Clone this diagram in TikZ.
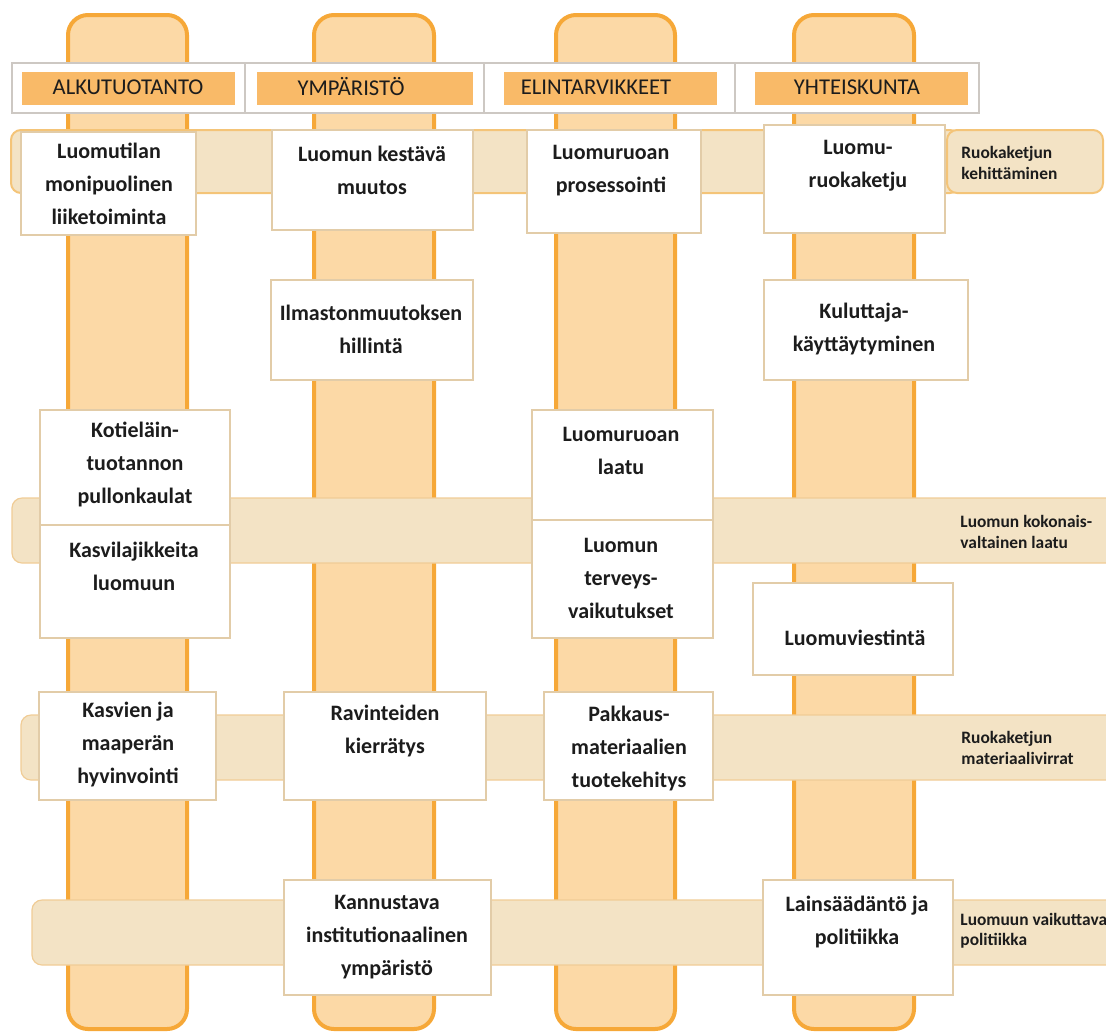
\documentclass[tikz,border=0pt]{standalone}
\usepackage{fontspec}
\setmainfont{Carlito}
\usetikzlibrary{fit}
\definecolor{colfill}{RGB}{252,217,166}
\definecolor{colline}{RGB}{246,168,56}
\definecolor{hdrorange}{RGB}{249,186,104}
\definecolor{bandfill}{RGB}{243,227,197}
\definecolor{bandline}{RGB}{240,204,150}
\definecolor{bandone}{RGB}{244,196,120}
\definecolor{boxline}{RGB}{226,204,168}
\definecolor{cellline}{RGB}{205,200,195}
\definecolor{txt}{RGB}{28,28,28}
\begin{document}
\begin{tikzpicture}[x=0.5pt,y=-0.5pt,
  colbar/.style={draw=colline,fill=colfill,line width=2pt,rounded corners=10pt},
  band/.style={draw=bandline,fill=bandfill,line width=0.6pt,rounded corners=5pt},
  lbox/.style={draw=bandone,fill=bandfill,line width=1pt,rounded corners=5pt,inner sep=0pt},
  hcell/.style={draw=cellline,fill=white,line width=0.6pt,inner sep=0pt},
  horange/.style={fill=hdrorange,inner sep=0pt},
  htext/.style={text=txt,font=\fontsize{11.3}{13}\selectfont,inner sep=0pt},
  wbox/.style={draw=boxline,fill=white,line width=0.6pt,inner sep=0pt},
  btext/.style={text=txt,align=center,inner sep=0pt,font=\bfseries\fontsize{11}{16.5}\selectfont},
  ltext/.style={text=txt,align=left,anchor=west,inner sep=0pt,font=\bfseries\fontsize{8.7}{10.2}\selectfont}]
\useasboundingbox (0,0) rectangle (1106,1034);
\clip (0,0) rectangle (1106,1034);
% vertical columns
\draw[colbar] (68,15) rectangle (187,1029);
\draw[colbar] (314,15) rectangle (434,1029);
\draw[colbar] (556,15) rectangle (675,1029);
\draw[colbar] (794,15) rectangle (914,1029);
% horizontal bands
\draw[band,draw=bandone,line width=1pt] (11,130) rectangle (960,193);
\draw[band] (12,498) rectangle (1130,563);
\draw[band] (21,715) rectangle (1130,780);
\draw[band] (32,900) rectangle (1130,965);
\node[lbox,fit={(947,130)(1103,193)}] (lb1) {};
% header
\node[hcell,fit={(12,63)(245,113)}] (h1) {};
\node[hcell,fit={(245,63)(484,113)}] (h2) {};
\node[hcell,fit={(484,63)(735,113)}] (h3) {};
\node[hcell,fit={(735,63)(979,113)}] (h4) {};
\node[horange,fit={(22,72)(235,105)}] (o1) {};
\node[horange,fit={(257,72)(473,105)}] (o2) {};
\node[horange,fit={(504,72)(717,105)}] (o3) {};
\node[horange,fit={(755,72)(968,105)}] (o4) {};
\node[htext] (ht1) at (128,87) {ALKUTUOTANTO};
\node[htext] (ht2) at (351,87) {YMPÄRISTÖ};
\node[htext] (ht3) at (596,87) {ELINTARVIKKEET};
\node[htext] (ht4) at (857,87) {YHTEISKUNTA};
% white boxes
\node[wbox,fit={(21,132)(196,235)}] (b1) {};
\node[wbox,fit={(272,130)(473,230)}] (b2) {};
\node[wbox,fit={(527,130)(701,233)}] (b3) {};
\node[wbox,fit={(764,125)(945,233)}] (b4) {};
\node[wbox,fit={(271,280)(473,380)}] (b6) {};
\node[wbox,fit={(764,280)(968,380)}] (b7) {};
\node[wbox,fit={(40,410)(230,525)}] (b8) {};
\node[wbox,fit={(40,525)(230,638)}] (b9) {};
\node[wbox,fit={(532,410)(713,520)}] (b10) {};
\node[wbox,fit={(532,520)(713,638)}] (b11) {};
\node[wbox,fit={(753,583)(953,675)}] (b12) {};
\node[wbox,fit={(39,692)(216,800)}] (b13) {};
\node[wbox,fit={(284,692)(486,800)}] (b14) {};
\node[wbox,fit={(544,692)(713,800)}] (b15) {};
\node[wbox,fit={(284,880)(491,995)}] (b17) {};
\node[wbox,fit={(763,880)(953,995)}] (b18) {};
% box texts
\node[btext] (t1) at (109,184) {Luomutilan\\monipuolinen\\liiketoiminta};
\node[btext] (t2) at (372,170) {Luomun kestävä\\muutos};
\node[btext] (t3) at (611,171) {Luomuruoan\\prosessointi};
\node[btext] (t4) at (858,166) {Luomu-\\ruokaketju};
\node[btext] (t6) at (371,329) {Ilmastonmuutoksen\\hillintä};
\node[btext] (t7) at (864,329) {Kuluttaja-\\käyttäytyminen};
\node[btext] (t8) at (135,464) {Kotieläin-\\tuotannon\\pullonkaulat};
\node[btext] (t9) at (134,566) {Kasvilajikkeita\\luomuun};
\node[btext] (t10) at (621,451) {Luomuruoan\\laatu};
\node[btext] (t11) at (621,578) {Luomun\\terveys-\\vaikutukset};
\node[btext] (t12) at (855,638) {Luomuviestintä};
\node[btext] (t13) at (128,744) {Kasvien ja\\maaperän\\hyvinvointi};
\node[btext] (t14) at (385,731) {Ravinteiden\\kierrätys};
\node[btext] (t15) at (629,748) {Pakkaus-\\materiaalien\\tuotekehitys};
\node[btext] (t17) at (387,937) {Kannustava\\institutionaalinen\\ympäristö};
\node[btext] (t18) at (857,922) {Lainsäädäntö ja\\politiikka};
% band labels
\node[ltext] (l1) at (961,163) {Ruokaketjun\\kehittäminen};
\node[ltext] (l2) at (960,532) {Luomun kokonais-\\valtainen laatu};
\node[ltext] (l3) at (961,748) {Ruokaketjun\\materiaalivirrat};
\node[ltext] (l4) at (960,931) {Luomuun vaikuttava\\politiikka};
\end{tikzpicture}
\end{document}
